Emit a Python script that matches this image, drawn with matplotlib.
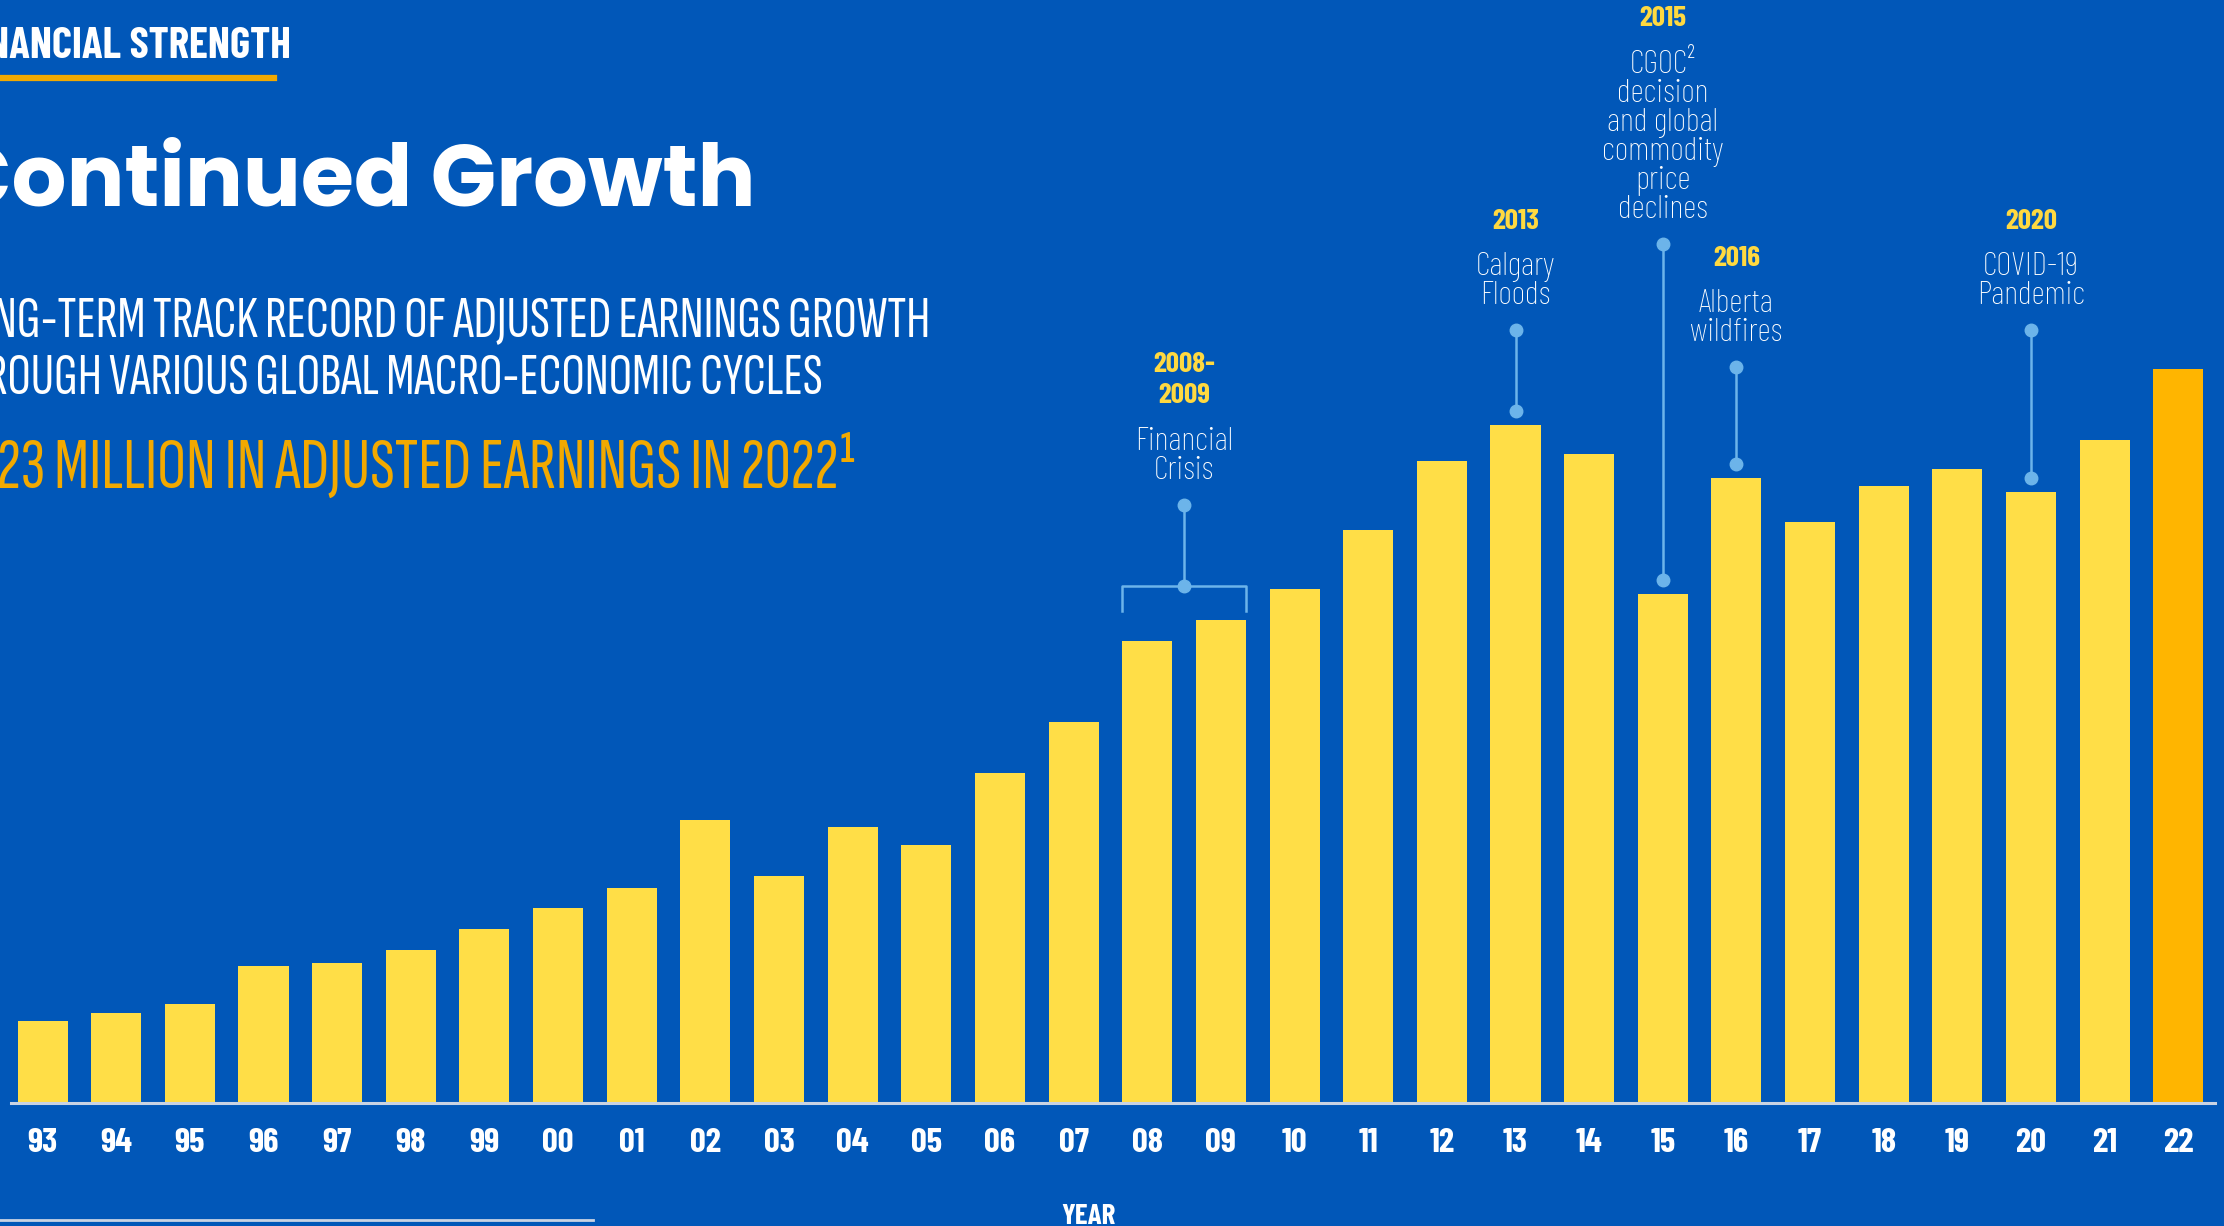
import matplotlib
matplotlib.use("Agg")
import matplotlib.pyplot as plt
from matplotlib import font_manager

# colours
BLUE = "#0157B8"
YELLOW = "#FFDE47"
ORANGE_BAR = "#FFB500"
ORANGE = "#F2A900"
EVENT_YELLOW = "#FFD940"
CALLOUT = "#6CB4EA"
AXIS = "#C9D3E3"

# data (relative bar heights, no value axis shown)
years = ["93", "94", "95", "96", "97", "98", "99", "00", "01", "02",
         "03", "04", "05", "06", "07", "08", "09", "10", "11", "12",
         "13", "14", "15", "16", "17", "18", "19", "20", "21", "22"]
earnings = [58, 64, 70, 97, 99, 108, 123, 138, 152, 200,
            160, 195, 182, 233, 269, 326, 341, 363, 404, 453,
            478, 458, 359, 441, 410, 435, 447, 431, 468, 518]

event_years = ["2008-\n2009", "2013", "2015", "2016", "2020"]
event_labels = ["Financial\nCrisis", "Calgary\nFloods",
                "CGOC\u00b2\ndecision\nand global\ncommodity\nprice\ndeclines",
                "Alberta\nwildfires", "COVID-19\nPandemic"]
event_bars = [("08", "09"), ("13",), ("15",), ("16",), ("20",)]
event_top = [422, 545, 606, 519, 545]   # height of the upper dot

W, H = 2224, 1226
names = {f.name for f in font_manager.fontManager.ttflist}


def pick(*cands):
    for c in cands:
        if c in names:
            return c
    return "DejaVu Sans"


BOLD_COND = pick("Barlow Condensed", "Fjalla One", "Oswald")
THIN_COND = pick("Barlow Condensed", "Saira Condensed", "Roboto Condensed")
SUB_COND = pick("Sofia Sans Extra Condensed", "Pathway Gothic One", "Bebas Neue")
TITLE = pick("Poppins", "Lato")


def fx(x):
    return x / W


def fy(y):
    return 1 - y / H


fig = plt.figure(figsize=(W / 100, H / 100), dpi=100, facecolor=BLUE)
ax = fig.add_axes([0, 0.1, 1, 0.9])
ax.set_facecolor("none")

idx = list(range(len(years)))
colors = [YELLOW] * (len(years) - 1) + [ORANGE_BAR]
ax.bar(idx, earnings, width=0.68, color=colors, zorder=2)
ax.axhline(0, xmin=11 / W, xmax=2215 / W, color=AXIS, lw=2.2, zorder=3, clip_on=False)

ax.set_xlim(-0.578, 29.62)
ax.set_ylim(0, 778)
for s in ax.spines.values():
    s.set_visible(False)
ax.set_yticks([])
ax.set_xticks(idx, years)
ax.tick_params(axis="x", length=0, pad=18, colors="white")
for lab in ax.get_xticklabels():
    lab.set_family(BOLD_COND)
    lab.set_weight("bold")
    lab.set_fontsize(25)

# event callouts
for yr, lab, bars, top in zip(event_years, event_labels, event_bars, event_top):
    pos = [years.index(b) for b in bars]
    hts = [earnings[p] for p in pos]
    xc = sum(pos) / len(pos)
    if len(pos) > 1:
        low = max(hts) + 6
        ax.plot([pos[0] - 0.34, pos[0] - 0.34, pos[-1] + 0.34, pos[-1] + 0.34],
                [low, low + 18, low + 18, low], color=CALLOUT, lw=1.8, zorder=3)
        bottom = low + 18
    else:
        bottom = hts[0] + 10
    ax.plot([xc, xc], [bottom, top], color=CALLOUT, lw=1.8, zorder=3)
    ax.plot([xc, xc], [bottom, top], "o", color=CALLOUT, ms=9, zorder=4)

    lines = lab.split("\n")
    y = top + 24
    for ln in reversed(lines):
        ax.text(xc, y, ln, ha="center", va="center", color="white",
                family=THIN_COND, weight="light", fontsize=24)
        y += 20.5
    y += 12
    for ln in reversed(yr.split("\n")):
        ax.text(xc, y, ln, ha="center", va="center", color=EVENT_YELLOW,
                family=BOLD_COND, weight="bold", fontsize=21)
        y += 22

# header texts (cut off on the left edge as in the original)
fig.text(fx(291), fy(47), "FINANCIAL STRENGTH", ha="right", va="center",
         color="white", family=BOLD_COND, weight="bold", fontsize=31)
fig.add_artist(plt.Line2D([0, fx(274)], [fy(78), fy(78)], color=ORANGE, lw=4.5))
fig.text(fx(756), fy(206), "Continued Growth", ha="right", va="baseline",
         color="white", family=TITLE, weight="bold", fontsize=62)
fig.text(fx(930), fy(322), "LONG-TERM TRACK RECORD OF ADJUSTED EARNINGS GROWTH",
         ha="right", va="center", color="white", family=SUB_COND, weight="medium",
         fontsize=42)
fig.text(fx(823), fy(379), "THROUGH VARIOUS GLOBAL MACRO-ECONOMIC CYCLES",
         ha="right", va="center", color="white", family=SUB_COND, weight="medium",
         fontsize=42)
fig.text(fx(857), fy(469), "23 MILLION IN ADJUSTED EARNINGS IN 2022\u00b9",
         ha="right", va="center", color=ORANGE, family=SUB_COND, weight="medium",
         fontsize=52)

fig.text(fx(1088), fy(1217), "YEAR", ha="center", va="center", color="white",
         family=BOLD_COND, weight="bold", fontsize=21)
fig.add_artist(plt.Line2D([0, fx(593)], [fy(1220), fy(1220)], color=AXIS, lw=2))

fig.savefig("out.png", dpi=100, facecolor=BLUE)
